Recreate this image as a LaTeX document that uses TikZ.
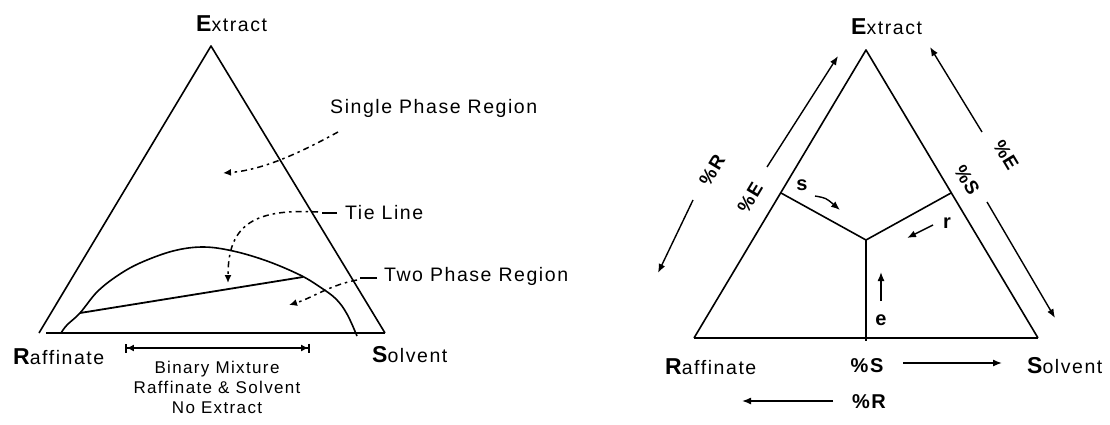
\documentclass[tikz,border=0pt]{standalone}
\usepackage{fontspec}
\setmainfont{Liberation Sans}[LetterSpace=8]
\usetikzlibrary{arrows.meta}
\newcommand\vtx[2]{{\fontsize{23}{26}\selectfont\bfseries #1}{\fontsize{19.5}{22}\selectfont #2}}
\newcommand\regfont{\fontsize{19.5}{22}\selectfont}
\newcommand\binfont{\fontsize{17}{20}\selectfont}
\newcommand\pctfont{\fontsize{20}{24}\selectfont\bfseries}
\newcommand\rotfont{\fontsize{19}{22}\selectfont\bfseries}
\begin{document}
\begin{tikzpicture}[x=1pt,y=-1pt,line join=round,
  side/.style={line width=1.6pt},
  base/.style={line width=2pt},
  lbl/.style={inner sep=0pt,anchor=west},
  plain/.style={inner sep=0pt},
  lead/.style={line width=1.5pt,dash pattern=on 6pt off 4pt on 2.5pt off 4pt,-{Latex[length=8pt,width=7pt]}},
  tick/.style={line width=1.5pt},
  arr/.style={line width=1.4pt,-{Latex[length=9pt,width=7pt]}}]
\useasboundingbox (0,0) rectangle (1110,425);

% ---------------- left diagram ----------------
\coordinate (E1) at (211,46);
\coordinate (R1) at (39,333);
\coordinate (S1) at (385,333);
\coordinate (B1) at (46,333);
\draw[side] (R1) -- (E1) -- (S1);
\draw[base] (B1) -- (S1);
% binodal curve
\draw[side] plot[smooth,tension=0.6] coordinates {(61,333) (67,325) (80,313) (97,292) (117,276) (140,263) (173,251) (203,247) (233,251) (267,261) (300,275) (320,287) (336,299) (347,314) (357,336)};
% tie line
\coordinate (T1) at (80,313);
\coordinate (T2) at (303,277);
\draw[line width=1.8pt] (T1) -- (T2);

\node[lbl] (eL) at (196,24) {\vtx{E}{xtract}};
\node[lbl] (rL) at (13,357) {\vtx{R}{affinate}};
\node[lbl] (sL) at (372,355) {\vtx{S}{olvent}};

\node[lbl] (sp) at (330,108) {\regfont Single Phase Region};
\node[lbl] (tl) at (345,213) {\regfont Tie Line};
\node[lbl] (tp) at (384,276) {\regfont Two Phase Region};

\coordinate (spA) at (338,132);
\coordinate (spB) at (223,173);
\draw[lead] (spA) .. controls (305,150) and (265,170) .. (spB);

\coordinate (tlL1) at (337,213);
\coordinate (tlL2) at (322,213);
\draw[tick] (tlL1) -- (tlL2);
\coordinate (tlA) at (318,212);
\coordinate (tlB) at (228,283);
\draw[lead] (tlA) .. controls (250,208) and (228,228) .. (tlB);

\coordinate (tpL1) at (377,278);
\coordinate (tpL2) at (360,278);
\draw[tick] (tpL1) -- (tpL2);
\coordinate (tpA) at (357,280);
\coordinate (tpB) at (289,305);
\draw[lead] (tpA) .. controls (330,285) and (312,298) .. (tpB);

\coordinate (bmA) at (125,348);
\coordinate (bmB) at (310,348);
\draw[line width=1.8pt,{Bar[width=9pt]Latex[length=7pt,width=7pt]}-{Latex[length=7pt,width=7pt]Bar[width=9pt]}] (bmA) -- (bmB);
\node[plain,align=center,font=\binfont] (bm) at (217,387) {Binary Mixture\\Raffinate \& Solvent\\No Extract};

% ---------------- right diagram ----------------
\coordinate (E2) at (866,50);
\coordinate (R2) at (694,338);
\coordinate (S2) at (1038,338);
\coordinate (C) at (866,240);
\coordinate (J1) at (781,193);
\coordinate (J2) at (951,193);
\coordinate (F) at (866,341);
\draw[side] (R2) -- (E2) -- (S2);
\draw[base] (R2) -- (S2);
\draw[side] (J1) -- (C) -- (J2);
\draw[line width=1.8pt] (C) -- (F);

\node[lbl] (eR) at (851,27) {\vtx{E}{xtract}};
\node[lbl] (rR) at (665,367) {\vtx{R}{affinate}};
\node[lbl] (sR) at (1027,366) {\vtx{S}{olvent}};

\node[plain] (pS) at (867,366) {\pctfont\%S};
\node[plain] (pR) at (869,402) {\pctfont\%R};
\coordinate (pSa) at (903,363);
\coordinate (pSb) at (1002,363);
\draw[arr] (pSa) -- (pSb);
\coordinate (pRa) at (833,401);
\coordinate (pRb) at (742,401);
\draw[arr] (pRa) -- (pRb);

\node[plain,rotate=59] (lR) at (712,170) {\rotfont\%R};
\node[plain,rotate=59] (lE) at (750,198) {\rotfont\%E};
\node[plain,rotate=-59] (rS) at (967,180) {\rotfont\%S};
\node[plain,rotate=-59] (rE) at (1006,155) {\rotfont\%E};

\coordinate (a1) at (767,167);
\coordinate (a2) at (838,56);
\draw[arr] (a1) -- (a2);
\coordinate (a3) at (693,200);
\coordinate (a4) at (658,273);
\draw[arr] (a3) -- (a4);
\coordinate (a5) at (982,132);
\coordinate (a6) at (930,47);
\draw[arr] (a5) -- (a6);
\coordinate (a7) at (987,202);
\coordinate (a8) at (1055,318);
\draw[arr] (a7) -- (a8);

\node[plain] (ls) at (802,185) {\pctfont s};
\node[plain] (lr) at (947,223) {\pctfont r};
\node[plain] (le) at (881,320) {\pctfont e};
\coordinate (sa) at (815,196);
\coordinate (sb) at (840,210);
\draw[arr] (sa) .. controls (826,198) .. (sb);
\coordinate (ra) at (933,225);
\coordinate (rb) at (907,238);
\draw[arr] (ra) -- (rb);
\coordinate (ea) at (881,301);
\coordinate (eb) at (881,272);
\draw[arr] (ea) -- (eb);
\end{tikzpicture}
\end{document}
